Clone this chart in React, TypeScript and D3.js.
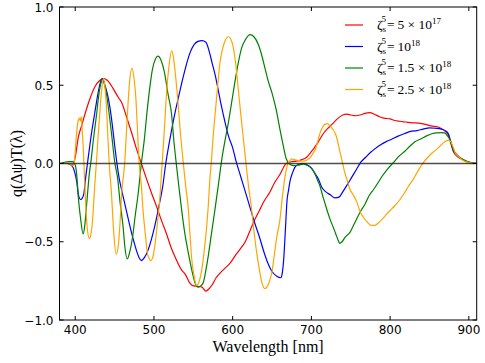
import React from "react";
import * as d3 from "d3";

// wavelength [nm], q(Δψ)T(λ)
const red5e17: [number, number][] = [
  [380, 0], [390, 0], [396, -0.01], [400, 0.04], [404, 0.17], [408, 0.24], [412, 0.31], [417, 0.39],
  [425, 0.49], [431, 0.53], [436, 0.543], [441, 0.53], [448, 0.48], [455, 0.42], [459, 0.39], [465, 0.3],
  [472, 0.19], [478, 0.09], [484, 0], [490, -0.09], [497, -0.19], [503, -0.27], [510, -0.37], [516, -0.45],
  [522, -0.54], [528, -0.61], [535, -0.68], [540, -0.71], [545, -0.76], [549, -0.78], [556, -0.785],
  [561, -0.79], [566, -0.815], [570, -0.8], [574, -0.775], [579, -0.73], [584, -0.7], [590, -0.67],
  [597, -0.635], [603, -0.59], [609, -0.55], [616, -0.5], [622, -0.43], [628, -0.36], [634, -0.3],
  [640, -0.24], [647, -0.185], [653, -0.125], [660, -0.07], [668, 0], [675, 0.012], [681, 0.015],
  [688, 0.025], [694, 0.04], [699, 0.07], [703, 0.095], [709, 0.14], [715, 0.19], [722, 0.23],
  [728, 0.26], [734, 0.29], [740, 0.31], [745, 0.315], [750, 0.31], [756, 0.305], [762, 0.31],
  [768, 0.32], [774, 0.325], [780, 0.315], [786, 0.3], [792, 0.29], [800, 0.285], [806, 0.275],
  [812, 0.27], [820, 0.265], [828, 0.26], [836, 0.258], [845, 0.25], [852, 0.24], [860, 0.235],
  [866, 0.22], [870, 0.205], [874, 0.18], [877, 0.13], [880, 0.08], [884, 0.05], [890, 0.03],
  [897, 0.012], [905, 0.002], [910, 0],
];

const blue1e18: [number, number][] = [
  [380, 0], [390, 0], [395, -0.01], [399, -0.05], [402, -0.12], [404, -0.2], [407, -0.23], [409, -0.22],
  [411, -0.19], [413, -0.1], [416, 0.02], [420, 0.17], [425, 0.33], [429, 0.45], [432, 0.52], [434, 0.543],
  [437, 0.51], [441, 0.44], [444, 0.36], [447, 0.25], [450, 0.12], [453, 0], [456, -0.1], [459, -0.17],
  [464, -0.28], [469, -0.39], [474, -0.49], [478, -0.56], [481, -0.6], [484, -0.62], [488, -0.6],
  [492, -0.56], [497, -0.48], [501, -0.4], [506, -0.28], [511, -0.15], [515, 0], [519, 0.12],
  [523, 0.23], [527, 0.33], [531, 0.42], [536, 0.53], [540, 0.61], [546, 0.71], [551, 0.76],
  [556, 0.78], [561, 0.785], [566, 0.775], [570, 0.72], [574, 0.64], [578, 0.56], [582, 0.46],
  [586, 0.36], [590, 0.27], [595, 0.17], [600, 0.1], [604, 0.02], [610, -0.08], [616, -0.18],
  [622, -0.28], [628, -0.38], [634, -0.47], [640, -0.57], [645, -0.64], [650, -0.69], [656, -0.72],
  [661, -0.73], [663, -0.7], [665, -0.6], [667, -0.42], [669, -0.24], [671, -0.17], [673, -0.11],
  [676, -0.06], [679, -0.025], [684, -0.005], [690, 0], [695, -0.01], [700, -0.03], [704, -0.06],
  [709, -0.1], [713, -0.15], [718, -0.18], [724, -0.2], [730, -0.22], [735, -0.215], [740, -0.18],
  [745, -0.14], [751, -0.09], [757, -0.04], [763, 0.01], [769, 0.04], [775, 0.07], [781, 0.095],
  [788, 0.12], [795, 0.14], [802, 0.155], [810, 0.175], [818, 0.19], [826, 0.205], [834, 0.21],
  [842, 0.22], [850, 0.228], [858, 0.225], [865, 0.22], [870, 0.21], [874, 0.19], [877, 0.14],
  [880, 0.09], [884, 0.06], [889, 0.036], [895, 0.018], [902, 0.006], [910, 0],
];

const green15e18: [number, number][] = [
  [380, 0], [386, 0.008], [392, 0.012], [397, 0.012], [400, -0.01], [402, -0.08], [404, -0.22],
  [407, -0.36], [410, -0.45], [412, -0.4], [414, -0.29], [416, -0.17], [418, -0.06], [420, 0.015],
  [423, 0.15], [427, 0.31], [430, 0.44], [433, 0.52], [435, 0.543], [438, 0.49], [441.6, 0.377],
  [444, 0.28], [446.7, 0.164], [450, 0.015], [454, -0.1], [457, -0.25], [460.7, -0.4], [463, -0.53],
  [466, -0.61], [469, -0.57], [473, -0.465], [476, -0.34], [480, -0.19], [484, 0], [488, 0.164],
  [491, 0.32], [494.6, 0.48], [498, 0.6], [502, 0.67], [505, 0.686], [509, 0.66], [513, 0.59],
  [518, 0.44], [522.5, 0.31], [525, 0.16], [528, 0.015], [531, -0.12], [535, -0.29], [539, -0.44],
  [543.6, -0.57], [548, -0.68], [552, -0.76], [556, -0.79], [559, -0.785], [562.7, -0.76],
  [566, -0.68], [569, -0.59], [573, -0.45], [577.6, -0.29], [582, -0.13], [586, 0.02], [590, 0.14],
  [594.5, 0.26], [599, 0.4], [603, 0.526], [607, 0.64], [611.5, 0.74], [616, 0.79], [622, 0.824],
  [627, 0.81], [632.6, 0.76], [637, 0.69], [641, 0.61], [645, 0.53], [650, 0.45], [655, 0.35],
  [660, 0.22], [664, 0.12], [668, 0.03], [673, -0.006], [678, -0.014], [684, -0.01], [690, -0.004],
  [696, -0.015], [700, -0.03], [704, -0.06], [708, -0.11], [711, -0.145], [714, -0.2], [717, -0.25],
  [720, -0.3], [724, -0.36], [728, -0.41], [731, -0.45], [734, -0.49], [736, -0.51], [739, -0.5],
  [743, -0.47], [749, -0.44], [755, -0.38], [762, -0.31], [768, -0.26], [774, -0.2], [779, -0.166],
  [785, -0.12], [790, -0.08], [796, -0.04], [804, 0.005], [812, 0.05], [819, 0.08], [825, 0.11],
  [832, 0.14], [840, 0.16], [847, 0.178], [853, 0.19], [859, 0.196], [866, 0.197], [870, 0.194],
  [873, 0.175], [876, 0.153], [879, 0.11], [882, 0.07], [886, 0.05], [891, 0.03], [897, 0.015],
  [904, 0.004], [910, 0],
];

const orange25e18: [number, number][] = [
  [380, 0], [388, 0], [394, -0.005], [397, -0.015], [399, 0.015], [401, 0.15], [403.5, 0.27],
  [405.6, 0.29], [406.5, 0.27], [407.7, 0.3], [409, 0.2], [410, 0.12], [412, -0.12], [415, -0.4],
  [418, -0.48], [420, -0.45], [421.7, -0.38], [424.7, -0.145], [427, 0.015], [429, 0.17], [431, 0.31],
  [433, 0.44], [436, 0.543], [438, 0.47], [439.5, 0.377], [441, 0.22], [443, 0.015], [446, -0.19],
  [449, -0.45], [452, -0.58], [455, -0.51], [457, -0.37], [459, -0.19], [463, 0.015], [465, 0.2],
  [467, 0.377], [469, 0.52], [472, 0.61], [475, 0.53], [477, 0.42], [479, 0.22], [481, 0.015],
  [484, -0.14], [486, -0.29], [489, -0.45], [491.6, -0.57], [494, -0.61], [496, -0.62], [499, -0.59],
  [501, -0.53], [504, -0.4], [507, -0.25], [510, -0.03], [513, 0.2], [516, 0.45], [519, 0.62],
  [522.5, 0.72], [525, 0.67], [527, 0.58], [529, 0.48], [531, 0.36], [533, 0.23], [537, 0.015],
  [540, -0.13], [543.6, -0.29], [546, -0.47], [548, -0.61], [551, -0.72], [554, -0.78], [557, -0.76],
  [560.7, -0.68], [564, -0.55], [567, -0.4], [569, -0.27], [571, -0.1], [573, 0.015], [575, 0.16],
  [577.6, 0.31], [581, 0.5], [584, 0.65], [587, 0.73], [590, 0.78], [594.5, 0.81], [597, 0.8],
  [600.8, 0.74], [604, 0.63], [607, 0.48], [610, 0.33], [613.5, 0.16], [616.6, 0.015], [620, -0.14],
  [624, -0.29], [627, -0.43], [630.5, -0.57], [634, -0.68], [637, -0.76], [641, -0.8], [644, -0.785],
  [647.5, -0.74], [650, -0.69], [653, -0.58], [656, -0.47], [660, -0.36], [663, -0.22], [666, -0.1],
  [669, -0.02], [672, 0.015], [675, 0.03], [678, 0.025], [682, 0.02], [687, 0.015], [692, 0.017],
  [696, 0.028], [699, 0.04], [702, 0.065], [705, 0.09], [708, 0.14], [711, 0.196], [714, 0.23],
  [717, 0.25], [720, 0.255], [723.6, 0.24], [727, 0.22], [730, 0.196], [733, 0.15], [736, 0.08],
  [738.6, 0.025], [742, -0.05], [745, -0.1], [749, -0.166], [753, -0.2], [758, -0.25], [762, -0.31],
  [767, -0.35], [771, -0.375], [776, -0.395], [780, -0.396], [785, -0.38], [791.5, -0.347],
  [796, -0.32], [800, -0.3], [806, -0.27], [812.6, -0.23], [818, -0.19], [824, -0.14], [829.5, -0.1],
  [835, -0.05], [842, 0.004], [848, 0.04], [854, 0.07], [859, 0.09], [865, 0.12], [870, 0.14],
  [874, 0.149], [877, 0.14], [880, 0.105], [883, 0.065], [887, 0.045], [891, 0.025], [896, 0.012],
  [902, 0.004], [910, 0],
];

const xTicks = [400, 500, 600, 700, 800, 900];
const yTicks = [-1.0, -0.5, 0.0, 0.5, 1.0];

const series = [
  { data: red5e17, color: "#ff0000", mant: "5", exp: "17" },
  { data: blue1e18, color: "#0000ff", mant: "", exp: "18" },
  { data: green15e18, color: "#008000", mant: "1.5", exp: "18" },
  { data: orange25e18, color: "#ffa500", mant: "2.5", exp: "18" },
];

const W = 485, H = 363;
const left = 59.5, right = 476.7, top = 7, bottom = 320;

export default function App() {
  const x = d3.scaleLinear().domain([380, 910]).range([left, right]);
  const y = d3.scaleLinear().domain([-1, 1]).range([bottom, top]);
  const line = d3.line<[number, number]>()
    .x((d) => x(d[0]))
    .y((d) => y(d[1]))
    .curve(d3.curveMonotoneX);

  const serif = "'Liberation Serif', 'DejaVu Serif', serif";
  const sans = "'DejaVu Sans', sans-serif";

  return (
    <svg width={W} height={H} style={{ position: "absolute", left: 0, top: 0 }}>
      <rect x={0} y={0} width={W} height={H} fill="#fff" />
      <defs>
        <clipPath id="plotclip">
          <rect x={left} y={top} width={right - left} height={bottom - top} />
        </clipPath>
      </defs>
      <g clipPath="url(#plotclip)">
        {series.map((s, i) => (
          <path key={i} d={line(s.data) || ""} fill="none" stroke={s.color} strokeWidth={1.2} />
        ))}
        <line x1={left} x2={right} y1={y(0)} y2={y(0)} stroke="#222" strokeOpacity={0.8} strokeWidth={1.6} />
      </g>
      <rect x={left} y={top} width={right - left} height={bottom - top} fill="none" stroke="#000" strokeWidth={1} />
      {xTicks.map((t) => (
        <g key={"x" + t}>
          <line x1={x(t)} x2={x(t)} y1={bottom} y2={bottom - 4} stroke="#000" />
          <line x1={x(t)} x2={x(t)} y1={top} y2={top + 4} stroke="#000" />
          <text x={x(t)} y={bottom + 13.5} textAnchor="middle" fontFamily={sans} fontSize={12}>{t}</text>
        </g>
      ))}
      {yTicks.map((t) => (
        <g key={"y" + t}>
          <line x1={left} x2={left + 4} y1={y(t)} y2={y(t)} stroke="#000" />
          <line x1={right} x2={right - 4} y1={y(t)} y2={y(t)} stroke="#000" />
          <text x={left - 6} y={y(t) + 4.5} textAnchor="end" fontFamily={sans} fontSize={12}>
            {t < 0 ? "\u2212" + Math.abs(t).toFixed(1) : t.toFixed(1)}
          </text>
        </g>
      ))}
      <text x={(left + right) / 2} y={352} textAnchor="middle" fontFamily={serif} fontSize={16}>
        Wavelength [nm]
      </text>
      <text transform={`translate(22, ${y(0)}) rotate(-90)`} textAnchor="middle" fontFamily={serif} fontSize={16}>
        q(Δψ)T(λ)
      </text>
      {series.map((s, i) => {
        const ly = 25 + i * 21.5;
        return (
          <g key={"lg" + i}>
            <line x1={345} x2={363} y1={ly} y2={ly} stroke={s.color} strokeWidth={1.2} />
            <text x={377} y={ly + 4} fontFamily={serif} fontSize={13.5}>
              <tspan>ζ</tspan>
              <tspan fontSize={9} dy={3}>s</tspan>
              <tspan fontSize={9} dx={-4.5} dy={-10}>5</tspan>
              <tspan dx={1} dy={7}>{s.mant ? `=\u2009${s.mant} \u00d7 10` : "=\u200910"}</tspan>
              <tspan fontSize={9} dy={-5}>{s.exp}</tspan>
            </text>
          </g>
        );
      })}
    </svg>
  );
}
